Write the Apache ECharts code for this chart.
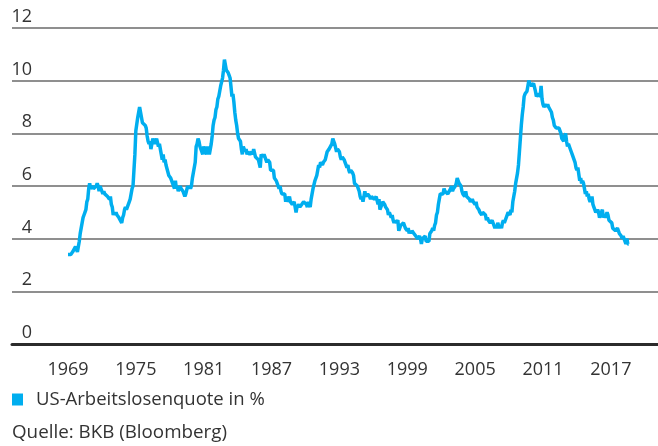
<!DOCTYPE html>
<html>
<head>
<meta charset="utf-8">
<script src="https://cdn.jsdelivr.net/npm/echarts@6/dist/echarts.min.js"></script>
<style>
html,body{margin:0;padding:0;background:#fff;}
#chart{width:658px;height:446px;}
</style>
</head>
<body>
<div id="chart"></div>
<script>
// Monthly US unemployment rate (%), starting January 1969
const startYear = 1969;
const rates1969to1978 = [
  3.4,3.4,3.4,3.4,3.4,3.5,3.5,3.5,3.7,3.7,3.5,3.5,
  3.9,4.2,4.4,4.6,4.8,4.9,5.0,5.1,5.4,5.5,5.9,6.1,
  5.9,5.9,6.0,5.9,5.9,5.9,6.0,6.1,6.0,5.8,6.0,6.0,
  5.8,5.7,5.8,5.7,5.7,5.7,5.6,5.6,5.5,5.6,5.3,5.2,
  4.9,5.0,4.9,5.0,4.9,4.9,4.8,4.8,4.8,4.6,4.8,4.9,
  5.1,5.2,5.1,5.1,5.1,5.4,5.5,5.5,5.9,6.0,6.6,7.2,
  8.1,8.1,8.6,8.8,9.0,8.8,8.6,8.4,8.4,8.4,8.3,8.2,
  7.9,7.7,7.6,7.7,7.4,7.6,7.8,7.8,7.6,7.7,7.8,7.8,
  7.5,7.6,7.4,7.2,7.0,7.2,6.9,7.0,6.8,6.8,6.8,6.4,
  6.4,6.3,6.3,6.1,6.0,5.9,6.2,5.9,6.0,5.8,5.9,6.0
];
const rates1979to1988 = [
  5.9,5.9,5.8,5.8,5.6,5.7,5.7,6.0,5.9,6.0,5.9,6.0,
  6.3,6.3,6.3,6.9,7.5,7.6,7.8,7.7,7.5,7.5,7.5,7.2,
  7.5,7.4,7.4,7.2,7.5,7.5,7.2,7.4,7.6,7.9,8.3,8.5,
  8.6,8.9,9.0,9.3,9.4,9.6,9.8,9.8,10.1,10.4,10.8,10.8,
  10.4,10.4,10.3,10.2,10.1,10.1,9.4,9.5,9.2,8.8,8.5,8.3,
  8.0,7.8,7.8,7.7,7.4,7.2,7.5,7.5,7.3,7.4,7.2,7.3,
  7.3,7.2,7.2,7.3,7.2,7.4,7.4,7.1,7.1,7.1,7.0,7.0,
  6.7,7.2,7.2,7.1,7.2,7.2,7.0,6.9,7.0,7.0,6.9,6.6,
  6.6,6.6,6.6,6.3,6.3,6.2,6.1,6.0,5.9,6.0,5.8,5.7,
  5.7,5.7,5.7,5.4,5.6,5.4,5.4,5.6,5.4,5.4,5.3,5.3
];
const rates1989to1998 = [
  5.4,5.2,5.0,5.2,5.2,5.3,5.2,5.2,5.3,5.3,5.4,5.4,
  5.4,5.3,5.2,5.4,5.4,5.2,5.5,5.7,5.9,5.9,6.2,6.3,
  6.4,6.6,6.8,6.7,6.9,6.9,6.8,6.9,6.9,7.0,7.0,7.3,
  7.3,7.4,7.4,7.4,7.6,7.8,7.7,7.6,7.6,7.3,7.4,7.4,
  7.3,7.1,7.0,7.1,7.1,7.0,6.9,6.8,6.7,6.8,6.6,6.5,
  6.6,6.6,6.5,6.4,6.1,6.1,6.1,6.0,5.9,5.8,5.6,5.5,
  5.6,5.4,5.4,5.8,5.6,5.6,5.7,5.7,5.6,5.5,5.6,5.6,
  5.6,5.5,5.5,5.6,5.6,5.3,5.5,5.1,5.2,5.2,5.4,5.4,
  5.3,5.2,5.2,5.1,4.9,5.0,4.9,4.8,4.9,4.7,4.6,4.7,
  4.6,4.6,4.7,4.3,4.4,4.5,4.5,4.5,4.6,4.5,4.4,4.4
];
const rates1999to2008 = [
  4.3,4.4,4.2,4.3,4.2,4.3,4.3,4.2,4.2,4.1,4.1,4.0,
  4.0,4.1,4.0,3.8,4.0,4.0,4.0,4.1,3.9,3.9,3.9,3.9,
  4.2,4.2,4.3,4.4,4.3,4.5,4.6,4.9,5.0,5.3,5.5,5.7,
  5.7,5.7,5.7,5.9,5.8,5.8,5.8,5.7,5.7,5.7,5.9,6.0,
  5.8,5.9,5.9,6.0,6.1,6.3,6.2,6.1,6.1,6.0,5.8,5.7,
  5.7,5.6,5.8,5.6,5.6,5.6,5.5,5.4,5.4,5.5,5.4,5.4,
  5.3,5.4,5.2,5.2,5.1,5.0,5.0,4.9,5.0,5.0,5.0,4.9,
  4.7,4.8,4.7,4.7,4.6,4.6,4.7,4.7,4.5,4.4,4.5,4.4,
  4.6,4.5,4.4,4.5,4.4,4.6,4.7,4.6,4.7,4.7,4.7,5.0,
  5.0,4.9,5.1,5.0,5.4,5.6,5.8,6.1,6.1,6.5,6.8,7.3
];
const rates2009to2018 = [
  7.8,8.3,8.7,9.0,9.4,9.5,9.5,9.6,9.8,10.0,9.9,9.9,
  9.8,9.8,9.9,9.9,9.6,9.4,9.4,9.5,9.5,9.4,9.8,9.3,
  9.1,9.0,9.0,9.1,9.0,9.1,9.0,9.0,9.0,8.8,8.6,8.5,
  8.3,8.3,8.2,8.2,8.2,8.2,8.2,8.0,7.8,7.8,7.7,7.9,
  8.0,7.7,7.5,7.6,7.5,7.5,7.3,7.2,7.2,7.2,6.9,6.7,
  6.6,6.7,6.7,6.2,6.3,6.1,6.2,6.1,5.9,5.7,5.8,5.6,
  5.7,5.5,5.4,5.4,5.6,5.3,5.2,5.1,5.0,5.0,5.1,5.0,
  4.8,4.9,5.0,5.1,4.8,4.9,4.8,4.9,5.0,4.9,4.7,4.7,
  4.7,4.6,4.4,4.4,4.4,4.3,4.3,4.4,4.3,4.2,4.2,4.1,
  4.0,4.1,4.0,4.0,3.8,4.0,3.8,3.8
];
const xTickYears = [1969, 1975, 1981, 1987, 1993, 1999, 2005, 2011, 2017];
const yTicks = [0, 2, 4, 6, 8, 10, 12];
const seriesName = 'US-Arbeitslosenquote in %';
const sourceText = 'Quelle: BKB (Bloomberg)';

const allRates = [].concat(rates1969to1978, rates1979to1988, rates1989to1998, rates1999to2008, rates2009to2018);
const lineData = allRates.map((v, i) => [startYear + i / 12, v]);

const FONT = '"Open Sans", sans-serif';
const TXT = '#333333';
const BLUE = '#00aeef';

const chart = echarts.init(document.getElementById('chart'), null, {renderer: 'canvas'});
chart.setOption({
  animation: false,
  backgroundColor: '#ffffff',
  textStyle: {fontFamily: FONT},
  grid: {left: 12, right: 0, top: 28, bottom: 102, containLabel: false},
  title: {
    text: sourceText,
    left: 12, top: 423, padding: 0,
    textStyle: {fontFamily: FONT, fontSize: 18.8, fontWeight: 'normal', color: TXT}
  },
  legend: {
    left: 12, top: 390, padding: 0,
    itemWidth: 11, itemHeight: 12,
    icon: 'rect',
    textStyle: {fontFamily: FONT, fontSize: 18.5, color: TXT, padding: [0, 0, 0, 8]},
    data: [{name: seriesName, itemStyle: {color: BLUE}}]
  },
  xAxis: {
    type: 'value',
    min: 1964.05,
    max: 2021.17,
    splitLine: {show: false},
    axisTick: {show: false},
    axisLine: {show: true, onZero: false, lineStyle: {color: '#2b2b2b', width: 3}},
    axisLabel: {
      customValues: xTickYears,
      margin: 17,
      fontFamily: FONT, fontSize: 18, color: TXT,
      formatter: v => String(v)
    }
  },
  yAxis: {
    type: 'value',
    min: 0, max: 12, interval: 2,
    axisLine: {show: false},
    axisTick: {show: false},
    splitLine: {show: true, lineStyle: {color: '#6a6a6a', width: 1.5}},
    axisLabel: {
      inside: true,
      align: 'right',
      verticalAlign: 'bottom',
      margin: 20,
      padding: [0, 0, 2, 0],
      fontFamily: FONT, fontSize: 18, color: TXT,
      formatter: v => yTicks.includes(v) ? String(v) : ''
    }
  },
  series: [{
    name: seriesName,
    type: 'line',
    data: lineData,
    showSymbol: false,
    symbol: 'none',
    lineStyle: {color: BLUE, width: 3.5},
    itemStyle: {color: BLUE},
    z: 3
  }]
});
</script>
</body>
</html>
